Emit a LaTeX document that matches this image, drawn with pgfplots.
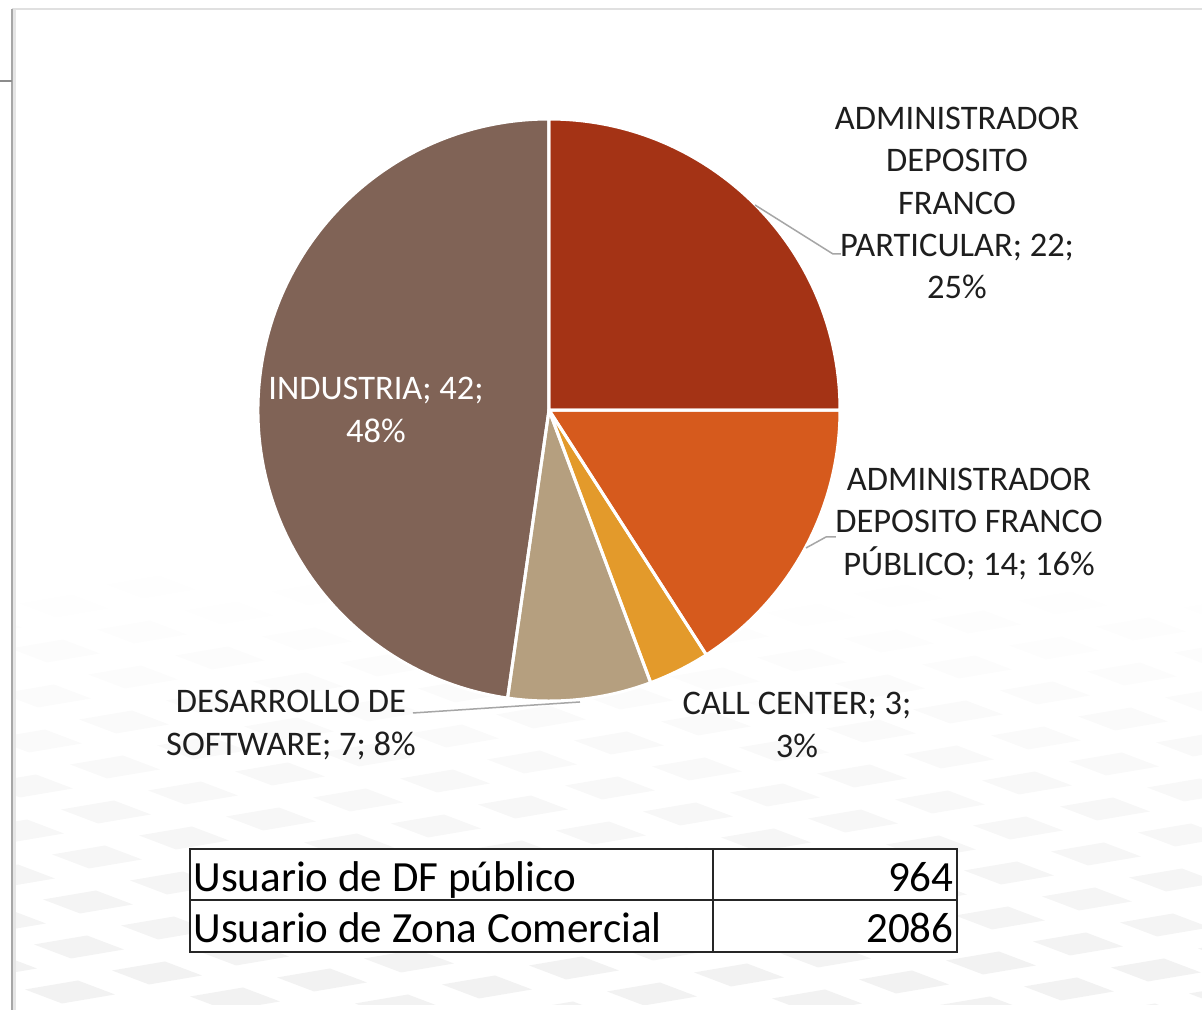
\documentclass[border=0pt]{standalone}
\usepackage{pgfplots}
\pgfplotsset{compat=1.18}
\usepackage{pgfplotstable}
\usepackage{fontspec}
\setmainfont{Carlito}

\definecolor{colA}{RGB}{164,51,21}
\definecolor{colB}{RGB}{214,90,29}
\definecolor{colC}{RGB}{227,154,43}
\definecolor{colD}{RGB}{181,159,127}
\definecolor{colE}{RGB}{128,99,86}
\definecolor{txt}{RGB}{30,30,30}
\definecolor{lead}{RGB}{166,166,166}

\pgfplotstableread{
name value
particular 22
publico 14
callcenter 3
software 7
industria 42
}\piedata

\begin{document}%
\begin{tikzpicture}
\pgfplotstablegetelem{0}{value}\of\piedata \let\vA\pgfplotsretval
\pgfplotstablegetelem{1}{value}\of\piedata \let\vB\pgfplotsretval
\pgfplotstablegetelem{2}{value}\of\piedata \let\vC\pgfplotsretval
\pgfplotstablegetelem{3}{value}\of\piedata \let\vD\pgfplotsretval
\pgfplotstablegetelem{4}{value}\of\piedata \let\vE\pgfplotsretval
\pgfmathsetmacro\tot{\vA+\vB+\vC+\vD+\vE}
\pgfmathsetmacro\aA{90}
\pgfmathsetmacro\aB{\aA-360*\vA/\tot}
\pgfmathsetmacro\aC{\aB-360*\vB/\tot}
\pgfmathsetmacro\aD{\aC-360*\vC/\tot}
\pgfmathsetmacro\aE{\aD-360*\vD/\tot}
\pgfmathsetmacro\aF{\aE-360*\vE/\tot}
\def\R{145.5bp}
% page background, borders and faint floor pattern (pixel coordinates)
\begin{scope}[shift={(0bp,505bp)}, x=0.5bp, y=-0.5bp]
  \fill[white] (0,0) rectangle (1202,1010);
  \begin{scope}
    \clip (16,11) rectangle (1202,1005);
    \foreach \i in {-16,...,16}{
      \foreach \j in {-14,...,14}{
        \pgfmathsetmacro\cx{1027+78*\i-9*\j}
        \pgfmathsetmacro\cy{783+26*\i+45*\j}
        \pgfmathsetmacro\op{min(1,max(0,(\cy-570)/400))}
        \ifdim\op pt>0.01pt
          \fill[black, opacity=0.05*\op] (\cx-45,\cy-2.5) -- (\cx+8,\cy-11.5) -- (\cx+45,\cy+2.5) -- (\cx-8,\cy+11.5) -- cycle;
        \fi
      }
    }
  \end{scope}
  \draw[black!12, line width=1.2bp] (12,9) -- (1202,9);
  \draw[black!35, line width=1bp] (12,9) -- (12,1010);
  \draw[black!10, line width=1.5bp] (14.5,10) -- (14.5,1010);
  \draw[black!45, line width=0.6bp] (0,81) -- (12,81);
\end{scope}

\begin{axis}[
  x=0.5bp, y=0.5bp,
  xmin=0, xmax=1202, ymin=0, ymax=1010,
  y dir=reverse,
  hide axis, clip=false,
  anchor=south west, at={(0,0)},
]
\fill[colA] (axis cs:549,410) -- ++(\aA:\R) arc[start angle=\aA, end angle=\aB, radius=\R] -- cycle;
\fill[colB] (axis cs:549,410) -- ++(\aB:\R) arc[start angle=\aB, end angle=\aC, radius=\R] -- cycle;
\fill[colC] (axis cs:549,410) -- ++(\aC:\R) arc[start angle=\aC, end angle=\aD, radius=\R] -- cycle;
\fill[colD] (axis cs:549,410) -- ++(\aD:\R) arc[start angle=\aD, end angle=\aE, radius=\R] -- cycle;
\fill[colE] (axis cs:549,410) -- ++(\aE:\R) arc[start angle=\aE, end angle=\aF, radius=\R] -- cycle;
\draw[white, line width=1.5bp, line join=round] (axis cs:549,410) -- ++(\aA:\R) arc[start angle=\aA, end angle=\aB, radius=\R] -- cycle;
\draw[white, line width=1.5bp, line join=round] (axis cs:549,410) -- ++(\aB:\R) arc[start angle=\aB, end angle=\aC, radius=\R] -- cycle;
\draw[white, line width=1.5bp, line join=round] (axis cs:549,410) -- ++(\aC:\R) arc[start angle=\aC, end angle=\aD, radius=\R] -- cycle;
\draw[white, line width=1.5bp, line join=round] (axis cs:549,410) -- ++(\aD:\R) arc[start angle=\aD, end angle=\aE, radius=\R] -- cycle;
\draw[white, line width=1.5bp, line join=round] (axis cs:549,410) -- ++(\aE:\R) arc[start angle=\aE, end angle=\aF, radius=\R] -- cycle;
\end{axis}

% labels, leader lines and the table (pixel coordinates)
\begin{scope}[shift={(0bp,505bp)}, x=0.5bp, y=-0.5bp,
  lab/.style={align=center, text=txt, inner sep=0pt, font=\fontsize{17.3}{21.25}\selectfont}]
  \draw[lead, line width=0.75bp] (755,205) -- (833,254) -- (841,254);
  \draw[lead, line width=0.75bp] (806,548) -- (826,537) -- (836,537);
  \draw[lead, line width=0.75bp] (413,713) -- (580,702);
  \node[lab] at (957,203) {ADMINISTRADOR\\DEPOSITO\\FRANCO\\PARTICULAR; 22;\\25\%};
  \node[lab] at (969,524) {ADMINISTRADOR\\DEPOSITO FRANCO\\PÚBLICO; 14; 16\%};
  \node[lab] at (797,725) {CALL CENTER; 3;\\3\%};
  \node[lab] at (291,725) {DESARROLLO DE\\SOFTWARE; 7; 8\%};
  \node[lab, text=white] at (376,410) {INDUSTRIA; 42;\\48\%};
  % table
  \fill[white] (190,849) rectangle (957,952);
  \draw[black!85, line width=1bp] (190,849) rectangle (957,952);
  \draw[black!85, line width=1bp] (190,900) -- (957,900);
  \draw[black!85, line width=1bp] (713,849) -- (713,952);
  \node[anchor=base west, inner sep=0pt, text=black, font=\fontsize{21.6}{26}\selectfont] at (193,892) {Usuario de DF público};
  \node[anchor=base west, inner sep=0pt, text=black, font=\fontsize{21.6}{26}\selectfont] at (193,943) {Usuario de Zona Comercial};
  \node[anchor=base east, inner sep=0pt, text=black, font=\fontsize{21.6}{26}\selectfont] at (954,892) {964};
  \node[anchor=base east, inner sep=0pt, text=black, font=\fontsize{21.6}{26}\selectfont] at (954,943) {2086};
\end{scope}
\pgfresetboundingbox
\path[use as bounding box] (0bp,0bp) rectangle (601bp,505bp);
\end{tikzpicture}%
\end{document}
